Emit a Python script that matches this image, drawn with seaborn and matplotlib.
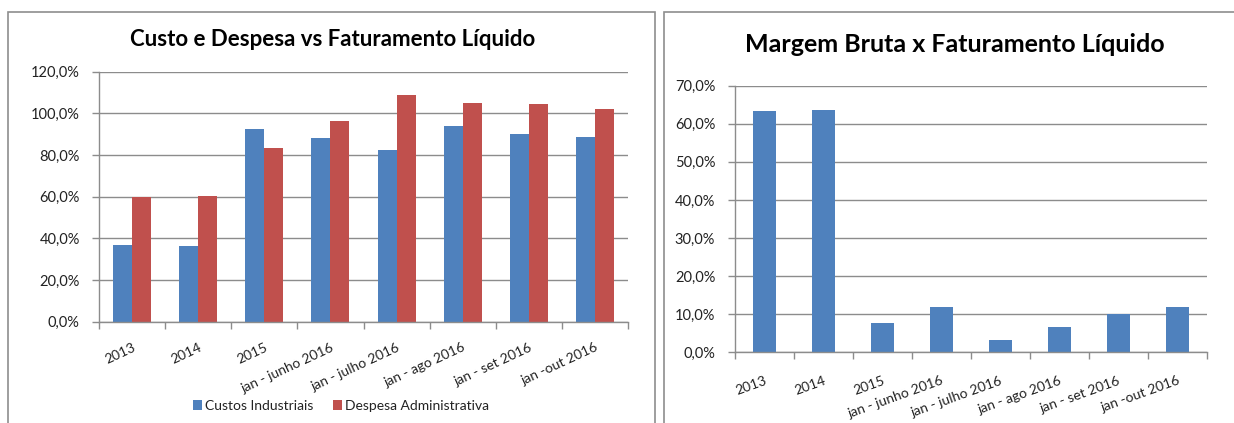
import matplotlib
matplotlib.use("Agg")
import matplotlib.pyplot as plt
import seaborn as sns
import pandas as pd
from matplotlib.ticker import FuncFormatter, FixedLocator
from matplotlib.patches import Rectangle

categories = ["2013", "2014", "2015", "jan - junho 2016", "jan - julho 2016",
              "jan - ago 2016", "jan - set 2016", "jan -out 2016"]
custos_industriais = [36.8, 36.3, 92.7, 88.0, 82.4, 93.8, 90.3, 88.5]
despesa_administrativa = [59.7, 60.3, 83.5, 96.5, 108.7, 105.0, 104.4, 102.1]
margem_bruta = [63.4, 63.7, 7.7, 12.0, 3.1, 6.6, 10.1, 11.8]

series_names = ["Custos Industriais", "Despesa Administrativa"]
title_left = "Custo e Despesa vs Faturamento Líquido"
title_right = "Margem Bruta x Faturamento Líquido"

BLUE = "#4F81BD"
RED = "#C0504D"
GRID = "#8C8C8C"

sns.set_theme(style="white")
plt.rcParams["font.family"] = ["Lato", "DejaVu Sans"]
plt.rcParams["text.color"] = "#000000"

df_left = pd.DataFrame({
    "categoria": categories * 2,
    "valor": custos_industriais + despesa_administrativa,
    "serie": [series_names[0]] * len(categories) + [series_names[1]] * len(categories),
})
df_right = pd.DataFrame({"categoria": categories, "valor": margem_bruta})

fig = plt.figure(figsize=(12.34, 4.23), dpi=100)

# panel borders
fig.patches.append(Rectangle((8 / 1234, -0.05), (655 - 8) / 1234, 1.05 - 12 / 423,
                             transform=fig.transFigure, fill=False,
                             edgecolor="#8E8E8E", linewidth=1.2))
fig.patches.append(Rectangle((664 / 1234, -0.05), 0.6, 1.05 - 12 / 423,
                             transform=fig.transFigure, fill=False,
                             edgecolor="#8E8E8E", linewidth=1.2))

ax1 = fig.add_axes([99.3 / 1234, (423 - 321.7) / 423, (627.7 - 99.3) / 1234, 250 / 423])
ax2 = fig.add_axes([734.7 / 1234, (423 - 352.3) / 423, (1206.7 - 734.7) / 1234, 266.6 / 423])

pct = FuncFormatter(lambda v, p: f"{v:.1f}".replace(".", ",") + "%")

sns.barplot(data=df_left, x="categoria", y="valor", hue="serie",
            palette=[BLUE, RED], width=0.576, gap=0, ax=ax1, saturation=1,
            edgecolor="none", linewidth=0, legend=True)
sns.barplot(data=df_right, x="categoria", y="valor", color=BLUE, saturation=1,
            width=0.39, ax=ax2, edgecolor="none", linewidth=0)

for ax, ymax, step, rot, xpad in [(ax1, 120, 20, 25, 14), (ax2, 70, 10, 20, 16)]:
    ax.set_ylim(0, ymax)
    ax.set_xlim(-0.5, len(categories) - 0.5)
    ax.set_yticks(range(0, ymax + 1, step))
    ax.yaxis.set_major_formatter(pct)
    ax.yaxis.grid(True, color=GRID, linewidth=1.0)
    ax.set_axisbelow(True)
    ax.set_xlabel("")
    ax.set_ylabel("")
    for s in ["top", "right"]:
        ax.spines[s].set_visible(False)
    for s in ["left", "bottom"]:
        ax.spines[s].set_color(GRID)
        ax.spines[s].set_linewidth(1.0)
    ax.tick_params(axis="y", which="major", left=True, length=5, width=1,
                   color=GRID, labelsize=10.5, pad=9, labelcolor="#222222")
    ax.tick_params(axis="x", which="major", bottom=False, length=0,
                   labelsize=10, labelcolor="#222222", pad=xpad)
    ax.xaxis.set_minor_locator(FixedLocator([i - 0.5 for i in range(len(categories) + 1)]))
    ax.tick_params(axis="x", which="minor", bottom=True, length=5, width=1, color=GRID)
    ax.set_xticks(range(len(categories)))
    ax.set_xticklabels(categories, rotation=rot, ha="right", va="top",
                       rotation_mode="anchor")

ax1.get_legend().remove()
handles, labels = ax1.get_legend_handles_labels()
fig.legend(handles, labels, loc="center", bbox_to_anchor=(341 / 1234, (423 - 406) / 423),
           ncol=2, frameon=False, fontsize=10, handlelength=0.65, handleheight=0.65,
           handletextpad=0.25, columnspacing=1.35, labelcolor="#222222")

fig.text(333 / 1234, 1 - 40 / 423, title_left, ha="center", va="center",
         fontsize=16, fontweight="bold")
fig.text(955 / 1234, 1 - 44 / 423, title_right, ha="center", va="center",
         fontsize=18, fontweight="bold")

fig.savefig("out.png", dpi=100)
